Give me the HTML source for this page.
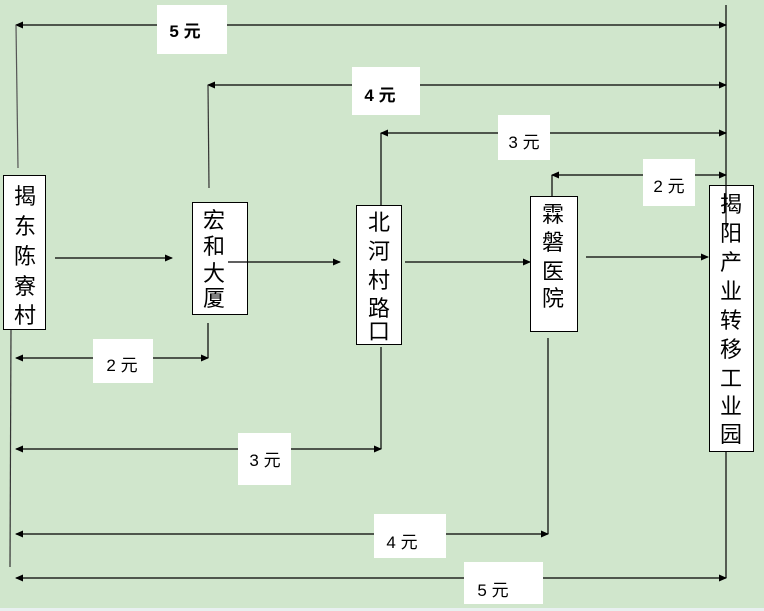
<!DOCTYPE html>
<html><head><meta charset="utf-8"><style>
body{margin:0;width:764px;height:611px;overflow:hidden;background:#d0e6cc}
svg{display:block}
text{font-family:"Liberation Sans","Noto Sans CJK SC",sans-serif}
</style></head><body>
<svg width="764" height="611" viewBox="0 0 764 611">
<defs><marker id="a" markerWidth="8" markerHeight="8" refX="7" refY="4" orient="auto-start-reverse" markerUnits="userSpaceOnUse"><path d="M0,0.5 L8,4 L0,7.5 Z" fill="#000"/></marker></defs>
<rect x="0" y="0" width="764" height="611" fill="#d0e6cc"/>
<rect x="0" y="608" width="764" height="3" fill="#e8f0f0"/>
<g stroke="#000" stroke-width="1.2" fill="none">
<!-- top lines -->
<line x1="16" y1="25" x2="726" y2="25" marker-start="url(#a)" marker-end="url(#a)"/>
<line x1="16" y1="25" x2="18" y2="168" stroke="#555"/>
<line x1="208" y1="85" x2="726" y2="85" marker-start="url(#a)" marker-end="url(#a)"/>
<line x1="208" y1="85" x2="209" y2="188" stroke="#333"/>
<line x1="381" y1="133" x2="726" y2="133" marker-start="url(#a)" marker-end="url(#a)"/>
<line x1="381" y1="133" x2="381" y2="205"/>
<line x1="552" y1="175" x2="726" y2="175" marker-start="url(#a)" marker-end="url(#a)"/>
<line x1="552" y1="175" x2="552" y2="196"/>
<line x1="726" y1="5" x2="726" y2="230"/>
<!-- bottom -->
<line x1="11" y1="329" x2="10" y2="567" stroke="#333"/>
<line x1="16" y1="358" x2="208" y2="358" marker-start="url(#a)" marker-end="url(#a)"/>
<line x1="208" y1="323" x2="208" y2="358"/>
<line x1="16" y1="449" x2="381" y2="449" marker-start="url(#a)" marker-end="url(#a)"/>
<line x1="381" y1="347" x2="381" y2="449"/>
<line x1="16" y1="534" x2="548" y2="534" marker-start="url(#a)" marker-end="url(#a)"/>
<line x1="548" y1="338" x2="548" y2="534"/>
<line x1="16" y1="578" x2="726" y2="578" marker-start="url(#a)" marker-end="url(#a)"/>
<line x1="726" y1="451" x2="726" y2="578"/>
<!-- flow -->
<line x1="55" y1="258" x2="172" y2="258" marker-end="url(#a)"/>
<line x1="241" y1="262" x2="340" y2="262" marker-end="url(#a)"/>
<line x1="405" y1="262" x2="530" y2="262" marker-end="url(#a)"/>
<line x1="586" y1="257" x2="708" y2="257" marker-end="url(#a)"/>
</g>
<!-- boxes -->
<g fill="#fff" stroke="#000" stroke-width="1">
<rect x="3.5" y="175.5" width="42" height="154"/>
<rect x="192.5" y="202.5" width="55" height="112"/>
<rect x="356.5" y="205.5" width="45" height="139"/>
<rect x="530.5" y="196.5" width="47" height="135"/>
<rect x="709.5" y="185.5" width="44" height="266"/>
</g>
<line x1="726" y1="186" x2="726" y2="230" stroke="#000" stroke-width="1.2"/>
<line x1="228" y1="262" x2="247" y2="262" stroke="#000" stroke-width="1.2"/>
<g font-size="22" text-anchor="middle" fill="#000">
<text x="25" y="204">揭</text><text x="25" y="234">东</text><text x="25" y="264">陈</text><text x="25" y="294">寮</text><text x="25" y="323">村</text>
<text x="214" y="228">宏</text><text x="214" y="254">和</text><text x="214" y="281">大</text><text x="214" y="306">厦</text>
<text x="379" y="230">北</text><text x="379" y="259">河</text><text x="379" y="288">村</text><text x="379" y="316">路</text><text x="379" y="339">口</text>
<text x="553" y="222">霖</text><text x="553" y="250">磐</text><text x="553" y="279">医</text><text x="553" y="306">院</text>
<text x="731" y="212">揭</text><text x="731" y="241">阳</text><text x="731" y="270">产</text><text x="731" y="299">业</text><text x="731" y="328">转</text><text x="731" y="357">移</text><text x="731" y="386">工</text><text x="731" y="414">业</text><text x="731" y="442">园</text>
</g>
<!-- labels -->
<g fill="#fff">
<rect x="157" y="5" width="70" height="49"/>
<rect x="352" y="67" width="68" height="48"/>
<rect x="498" y="115" width="52" height="45"/>
<rect x="643" y="159" width="52" height="47"/>
<rect x="93" y="339" width="60" height="44"/>
<rect x="238" y="433" width="53" height="52"/>
<rect x="374" y="514" width="72" height="44"/>
<rect x="464" y="562" width="79" height="42"/>
</g>
<g font-size="17" text-anchor="middle" fill="#000">
<text x="185" y="37" font-weight="bold">5 元</text>
<text x="380" y="101" font-weight="bold">4 元</text>
<text x="524" y="148">3 元</text>
<text x="669" y="192">2 元</text>
<text x="122" y="371">2 元</text>
<text x="265" y="466">3 元</text>
<text x="402" y="548">4 元</text>
<text x="493" y="596">5 元</text>
</g>
</svg>
</body></html>
